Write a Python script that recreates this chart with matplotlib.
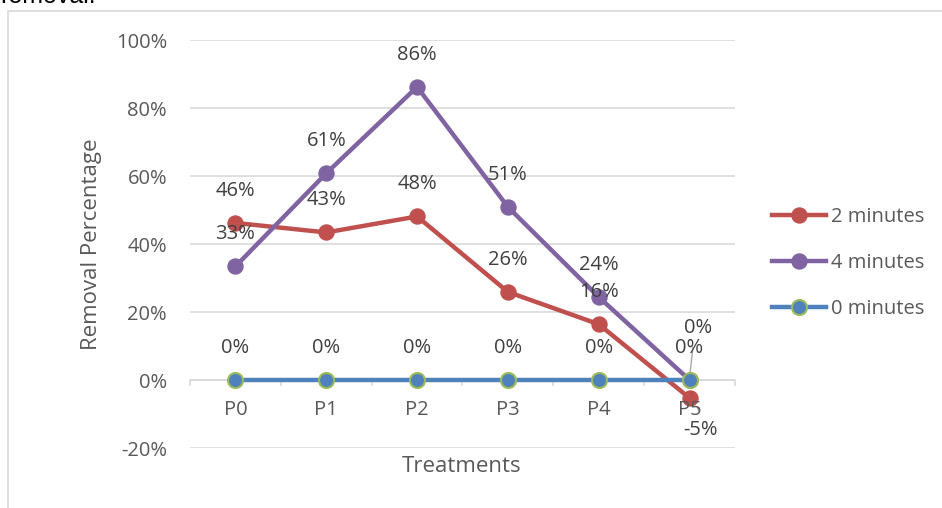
import matplotlib
matplotlib.use("Agg")
import matplotlib.pyplot as plt
from matplotlib.patches import Rectangle

plt.rcParams['font.family'] = ['Open Sans', 'DejaVu Sans']

categories = ["P0", "P1", "P2", "P3", "P4", "P5"]
two_min = [46.2, 43.4, 48.1, 25.9, 16.4, -5.3]
four_min = [33.4, 60.8, 86.2, 50.9, 24.4, 0.0]
zero_min = [0, 0, 0, 0, 0, 0]
two_lbl = ["46%", "43%", "48%", "26%", "16%", "-5%"]
four_lbl = ["33%", "61%", "86%", "51%", "24%", "0%"]
zero_lbl = ["0%", "0%", "0%", "0%", "0%", "0%"]
yticks = [-20, 0, 20, 40, 60, 80, 100]

W, H = 942, 508
FS = 14.5
fig = plt.figure(figsize=(W / 100, H / 100), dpi=100)

# outer chart border
fig.patches.append(Rectangle((8 / W, -0.1), 1.2, (H - 11) / H + 0.1, transform=fig.transFigure,
                             fill=False, edgecolor="#d9d9d9", linewidth=1.2))
fig.text(0.0, 1 - 3 / H, "removal.", ha="left", va="baseline", fontsize=18,
         family=["Liberation Sans"], color="black")

ax = fig.add_axes([190 / W, (H - 448) / H, (735 - 190) / W, (448 - 40) / H])
x = list(range(len(categories)))
ax.set_xlim(-0.5, 5.5)
ax.set_ylim(-20, 100)
ax.set_yticks(yticks)
ax.set_yticklabels([f"{v}%" for v in yticks])
ax.yaxis.grid(True, color="#d9d9d9", linewidth=1.2)
ax.set_axisbelow(True)
for s in ax.spines.values():
    s.set_visible(False)
ax.tick_params(axis="y", length=0, pad=16.5, labelsize=FS, labelcolor="#595959")
ax.set_xticks([])
# category axis at zero
ax.axhline(0, color="#d9d9d9", linewidth=1.2, zorder=1)
for b in [i - 0.5 for i in range(len(categories) + 1)]:
    ax.plot([b, b], [0, -1.6], color="#d9d9d9", linewidth=1.2, zorder=1, clip_on=False)
for i, c in enumerate(categories):
    ax.text(i, -8.8, c, ha="center", va="center", fontsize=FS, color="#595959", zorder=10)

ax.plot(x, two_min, color="#C0504D", linewidth=3.2, marker="o", markersize=10.8,
        label="2 minutes", zorder=3)
ax.plot(x, four_min, color="#8064A2", linewidth=3.2, marker="o", markersize=10.8,
        label="4 minutes", zorder=4)
ax.plot(x, zero_min, color="#4F81BD", linewidth=3.2, marker="o", markersize=10.8,
        markerfacecolor="#4F81BD", markeredgecolor="#9BBB59", markeredgewidth=1.5,
        label="0 minutes", zorder=5)

lblc = "#404040"
for i in range(len(categories)):
    # 2 minutes
    if i == 5:
        ax.annotate(two_lbl[i], (i, two_min[i]), xytext=(11, -32), textcoords="offset pixels",
                    ha="center", va="center", fontsize=FS, color=lblc, zorder=10)
        ax.annotate("", (i + 0.07, two_min[i] - 1.8), xytext=(i + 0.11, two_min[i] - 4.3),
                    arrowprops=dict(arrowstyle="-", color="#a6a6a6", lw=1))
    else:
        ax.annotate(two_lbl[i], (i, two_min[i]), xytext=(0, 32), textcoords="offset pixels",
                    ha="center", va="center", fontsize=FS, color=lblc, zorder=10)
    # 4 minutes
    if i == 5:
        ax.annotate(four_lbl[i], (i, four_min[i]), xytext=(8, 52), textcoords="offset pixels",
                    ha="center", va="center", fontsize=FS, color=lblc, zorder=10)
        ax.annotate("", (i, four_min[i] + 0.8), xytext=(i + 0.04, 10.3),
                    arrowprops=dict(arrowstyle="-", color="#a6a6a6", lw=1))
    else:
        ax.annotate(four_lbl[i], (i, four_min[i]), xytext=(0, 32), textcoords="offset pixels",
                    ha="center", va="center", fontsize=FS, color=lblc, zorder=10)
    # 0 minutes
    ax.annotate(zero_lbl[i], (i, zero_min[i]), xytext=(-1 if i == 5 else 0, 32),
                textcoords="offset pixels", ha="center", va="center", fontsize=FS, color=lblc,
                zorder=10)

fig.text(92 / W, 1 - 244 / H, "Removal Percentage", ha="center", va="center", rotation=90,
         fontsize=16, color="#595959")
fig.text(462 / W, 1 - 467 / H, "Treatments", ha="center", va="center", fontsize=16, color="#595959")

leg = ax.legend(loc="center left", bbox_to_anchor=(772 / W, 1 - 263 / H),
                bbox_transform=fig.transFigure, frameon=False, fontsize=FS,
                labelcolor="#595959", handlelength=2.7, handletextpad=0.25,
                labelspacing=1.3, borderaxespad=0, borderpad=0)

fig.savefig("out.png", dpi=100)
